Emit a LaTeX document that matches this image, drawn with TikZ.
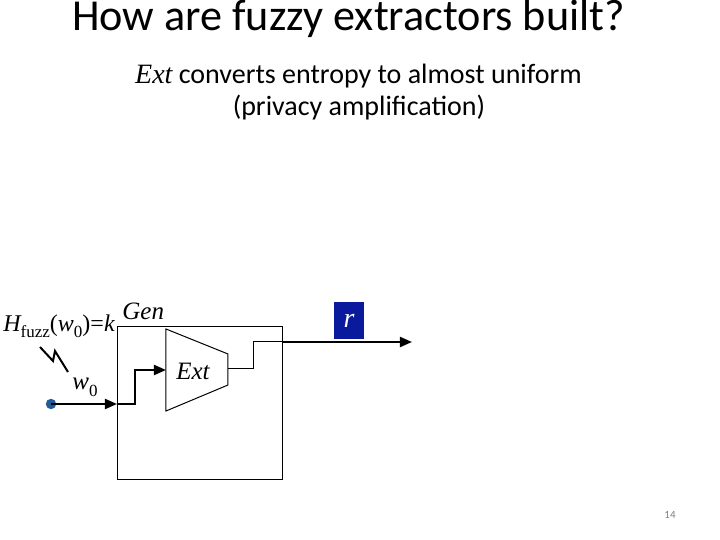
\documentclass[tikz,border=0pt]{standalone}
\usepackage{fontspec}
\setmainfont{Liberation Serif}
\newfontfamily\calfont{Carlito}
\usetikzlibrary{arrows.meta}
\definecolor{rblue}{HTML}{0A1A9C}
\definecolor{dotblue}{HTML}{1F5C99}
\newcommand{\mysub}[1]{\raisebox{-0.25em}{\fontsize{8.5}{10}\selectfont\upshape #1}}
\begin{document}
\begin{tikzpicture}[x=0.5pt,y=-0.5pt,
  thinline/.style={line width=0.5pt},
  thickline/.style={line width=1pt},
  arr/.style={-{Triangle[length=6pt,width=5pt]}},
  lbl/.style={font=\fontsize{12.5}{15}\selectfont\itshape, inner sep=0pt}]
\useasboundingbox (0,0) rectangle (720,540);

% titles
\node[anchor=base, font=\calfont\fontsize{22.1}{26}\selectfont, inner sep=0pt] (title) at (348.5,31) {How are fuzzy extractors built?};
\node[anchor=base, font=\calfont\fontsize{14}{16}\selectfont, inner sep=0pt] (sub1) at (358.5,84) {{\rmfamily\itshape Ext} converts entropy to almost uniform};
\node[anchor=base, font=\calfont\fontsize{14}{16}\selectfont, inner sep=0pt] (sub2) at (359,116) {(privacy amplification)};
\node[anchor=base, font=\calfont\fontsize{5.5}{7}\selectfont, text=gray, inner sep=0pt] (page) at (670,519) {14};

% Gen box
\node[draw, thinline, minimum width=82.5pt, minimum height=76.5pt, inner sep=0pt, anchor=north west] (gen) at (117,326) {};
% Ext trapezoid
\coordinate (t1) at (166,329);
\coordinate (t2) at (228,354);
\coordinate (t3) at (228,385);
\coordinate (t4) at (166,411);
\draw[thinline] (t1) -- (t2) -- (t3) -- (t4) -- cycle;
\coordinate (extin) at (166,370);
\coordinate (extout) at (228,369);

% input
\coordinate (dot) at (51,404);
\coordinate (genin) at (117,404);
\fill[dotblue] (dot) circle (2.6pt);
\draw[thickline, arr] (dot) -- (genin);
\draw[thickline, arr] (genin) -- (135,404) -- (135,370) -- (extin);

% output
\coordinate (genout) at (282,342);
\coordinate (rend) at (412,342);
\draw[thinline] (extout) -- (254,369) -- (254,342) -- (genout);
\draw[thickline, arr] (genout) -- (rend);

% r box
\node[fill=rblue, minimum width=15pt, minimum height=18.5pt, inner sep=0pt, text=white, font=\fontsize{14}{16}\selectfont\itshape] (r) at (349,320.5) {r};

% lightning
\draw[thickline] (40,347) -- (53,361) -- (55,351) -- (68,372);

% labels
\node[lbl, font=\fontsize{12}{14}\selectfont\itshape, anchor=base west] (hf) at (3,332) {H\mysub{fuzz}\upshape(\itshape w\mysub{0}\upshape)=\itshape k};
\node[lbl, anchor=base west] (genl) at (122,320) {Gen};
\node[lbl, anchor=base] (extl) at (193,380) {Ext};
\node[lbl, anchor=base west] (w0) at (72,390) {w\mysub{0}};
\end{tikzpicture}
\end{document}
